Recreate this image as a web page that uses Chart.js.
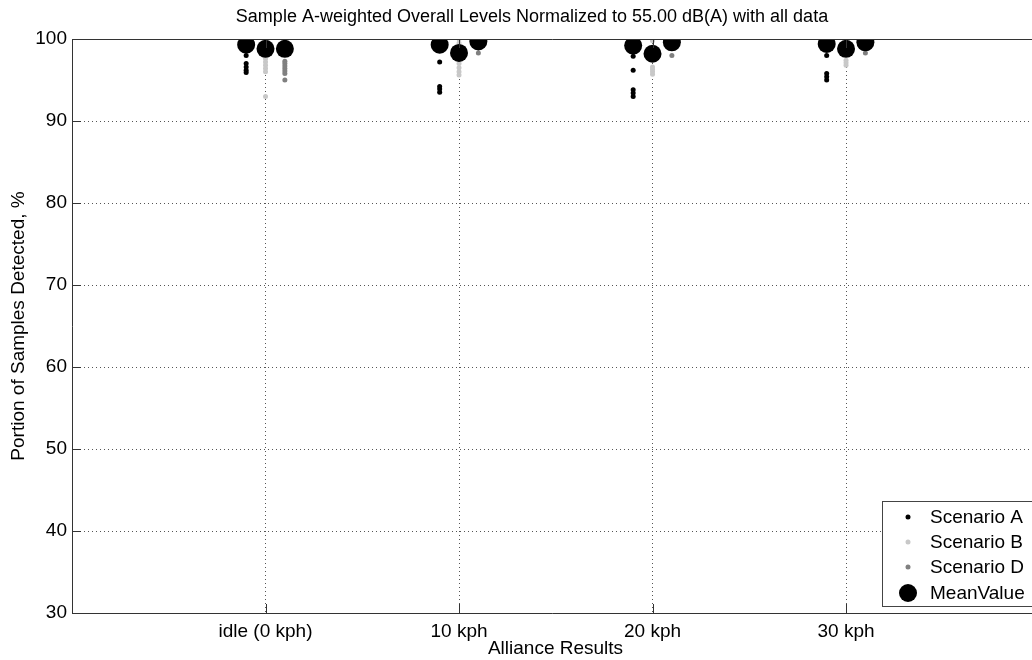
<!DOCTYPE html>
<html lang="en">
<head>
  <meta charset="UTF-8">
  <title>Sample A-weighted Overall Levels</title>
  <script src="https://cdn.jsdelivr.net/npm/chart.js"></script>
  <style>
    html, body { margin: 0; padding: 0; background: #fff; overflow: hidden; }
    #wrap { width: 1032px; height: 660px; }
  </style>
</head>
<body>
  <div id="wrap"><canvas id="levelsChart" width="1032" height="660"></canvas></div>

  <script>
    // categories on the x axis
    const categories = ['idle (0 kph)', '10 kph', '20 kph', '30 kph'];
    const yTicks = [30, 40, 50, 60, 70, 80, 90, 100];

    // detection % per sample, one list per category
    const scenarioA = [
      [100, 100, 99.6, 98.0, 97.0, 96.6, 96.2, 95.9],
      [100, 99.8, 97.2, 94.2, 93.9, 93.5],
      [100, 99.6, 97.9, 96.2, 93.8, 93.4, 93.0],
      [100, 99.7, 98.0, 95.8, 95.4, 95.0]
    ];
    const scenarioB = [
      [100, 99.6, 99.0, 98.5, 98.0, 97.6, 97.2, 96.8, 96.4, 96.0, 93.0],
      [100, 99.5, 99.0, 98.2, 97.6, 97.0, 96.5, 96.0, 95.6],
      [100, 99.8, 98.5, 97.5, 96.6, 96.3, 96.0, 95.7],
      [100, 99.5, 98.5, 97.4, 97.1, 96.8]
    ];
    const scenarioD = [
      [100, 99.5, 98.5, 97.3, 97.0, 96.7, 96.4, 96.1, 95.8, 95.0],
      [100, 99.8, 98.3],
      [100, 99.7, 98.0],
      [100, 99.8, 98.3]
    ];
    // mean values
    const meanA = [99.3, 99.3, 99.2, 99.4];
    const meanB = [98.8, 98.3, 98.2, 98.8];
    const meanD = [98.8, 99.7, 99.6, 99.6];

    const FONT = '"Liberation Sans", Arial, sans-serif';
    const offsets = { A: -0.1, B: 0, D: 0.1 };

    function toPoints(lists, off) {
      const pts = [];
      lists.forEach(function(list, i) {
        list.forEach(function(v) { pts.push({ x: i + 1 + off, y: v }); });
      });
      return pts;
    }

    const meanPoints = [];
    categories.forEach(function(c, i) {
      meanPoints.push({ x: i + 1 + offsets.A, y: meanA[i] });
      meanPoints.push({ x: i + 1 + offsets.B, y: meanB[i] });
      meanPoints.push({ x: i + 1 + offsets.D, y: meanD[i] });
    });

    // axes frame, inward ticks, titles and legend, MATLAB style
    const framePlugin = {
      id: 'frame',
      afterDatasetsDraw(chart) {
        const ctx = chart.ctx;
        const a = chart.chartArea;
        const xs = chart.scales.x, ys = chart.scales.y;
        ctx.save();
        ctx.strokeStyle = '#333';
        ctx.lineWidth = 1;
        ctx.beginPath();
        ctx.moveTo(a.left + 0.5, a.top + 0.5);
        ctx.lineTo(a.right + 10, a.top + 0.5);
        ctx.moveTo(a.left + 0.5, a.top);
        ctx.lineTo(a.left + 0.5, a.bottom + 0.5);
        ctx.lineTo(a.right + 10, a.bottom + 0.5);
        // inward ticks
        yTicks.forEach(function(v) {
          const y = Math.round(ys.getPixelForValue(v)) + 0.5;
          ctx.moveTo(a.left, y);
          ctx.lineTo(a.left + 9, y);
        });
        for (let i = 1; i <= categories.length; i++) {
          const x = Math.round(xs.getPixelForValue(i)) + 0.5;
          ctx.moveTo(x, a.bottom);
          ctx.lineTo(x, a.bottom - 9);
          ctx.moveTo(x, a.top);
          ctx.lineTo(x, a.top + 9);
        }
        ctx.stroke();

        // titles
        ctx.fillStyle = '#000';
        ctx.textAlign = 'center';
        ctx.textBaseline = 'middle';
        ctx.font = '18px ' + FONT;
        ctx.fillText('Sample A-weighted Overall Levels Normalized to 55.00 dB(A) with all data', 532, 17);
        ctx.font = '19px ' + FONT;
        ctx.fillText('Alliance Results', (a.left + 1039) / 2, 649);
        ctx.save();
        ctx.translate(19, (a.top + a.bottom) / 2);
        ctx.rotate(-Math.PI / 2);
        ctx.fillText('Portion of Samples Detected, %', 0, 0);
        ctx.restore();

        // legend box (cut off by the right edge)
        const lx = 882.5, ly = 501.5, lh = 105;
        ctx.fillStyle = '#fff';
        ctx.fillRect(lx, ly, 200, lh);
        ctx.strokeStyle = '#444';
        ctx.strokeRect(lx, ly, 200, lh);
        const items = [
          { label: 'Scenario A', color: '#000', r: 2.5 },
          { label: 'Scenario B', color: '#c8c8c8', r: 2.5 },
          { label: 'Scenario D', color: '#808080', r: 2.5 },
          { label: 'MeanValue', color: '#000', r: 9 }
        ];
        const rows = [517, 542, 567, 593];
        ctx.textAlign = 'left';
        items.forEach(function(it, k) {
          ctx.fillStyle = it.color;
          ctx.beginPath();
          ctx.arc(908, rows[k], it.r, 0, Math.PI * 2);
          ctx.fill();
          ctx.fillStyle = '#000';
          ctx.fillText(it.label, 930, rows[k] + 1);
        });
        ctx.restore();
      }
    };

    const dotStyle = function(color) {
      return {
        backgroundColor: color,
        borderColor: color,
        borderWidth: 0,
        pointRadius: 2.5,
        pointHoverRadius: 2.5,
        order: 1
      };
    };

    new Chart(document.getElementById('levelsChart').getContext('2d'), {
      type: 'scatter',
      data: {
        datasets: [
          Object.assign({ label: 'Scenario A', data: toPoints(scenarioA, offsets.A) }, dotStyle('#000')),
          Object.assign({ label: 'Scenario B', data: toPoints(scenarioB, offsets.B) }, dotStyle('#c8c8c8')),
          Object.assign({ label: 'Scenario D', data: toPoints(scenarioD, offsets.D) }, dotStyle('#808080')),
          {
            label: 'MeanValue',
            data: meanPoints,
            backgroundColor: '#000',
            borderColor: '#000',
            borderWidth: 0,
            pointRadius: 9,
            pointHoverRadius: 9,
            order: 0
          }
        ]
      },
      options: {
        responsive: false,
        animation: false,
        layout: { autoPadding: false, padding: { top: 39, right: 0, left: 0, bottom: 0 } },
        plugins: {
          legend: { display: false },
          title: { display: false },
          tooltip: { enabled: false }
        },
        scales: {
          x: {
            type: 'linear',
            min: 0,
            max: 4.961,
            afterFit: function(s) { s.height = 47; },
            afterBuildTicks: function(s) {
              s.ticks = categories.map(function(c, i) { return { value: i + 1 }; });
            },
            border: { display: false, dash: [1, 3] },
            grid: { drawTicks: false, color: '#555' },
            ticks: {
              padding: 7,
              color: '#000',
              font: { family: FONT, size: 19 },
              maxRotation: 0,
              callback: function(v) { return categories[v - 1]; }
            }
          },
          y: {
            min: 30,
            max: 100,
            afterFit: function(s) { s.width = 72; },
            afterBuildTicks: function(s) {
              s.ticks = yTicks.map(function(v) { return { value: v }; });
            },
            border: { display: false, dash: [1, 3] },
            grid: {
              drawTicks: false,
              color: function(c) {
                return (c.tick && (c.tick.value === 30 || c.tick.value === 100)) ? 'rgba(0,0,0,0)' : '#555';
              }
            },
            ticks: {
              padding: 5,
              color: '#000',
              font: { family: FONT, size: 19 }
            }
          }
        }
      },
      plugins: [framePlugin]
    });
  </script>
</body>
</html>
